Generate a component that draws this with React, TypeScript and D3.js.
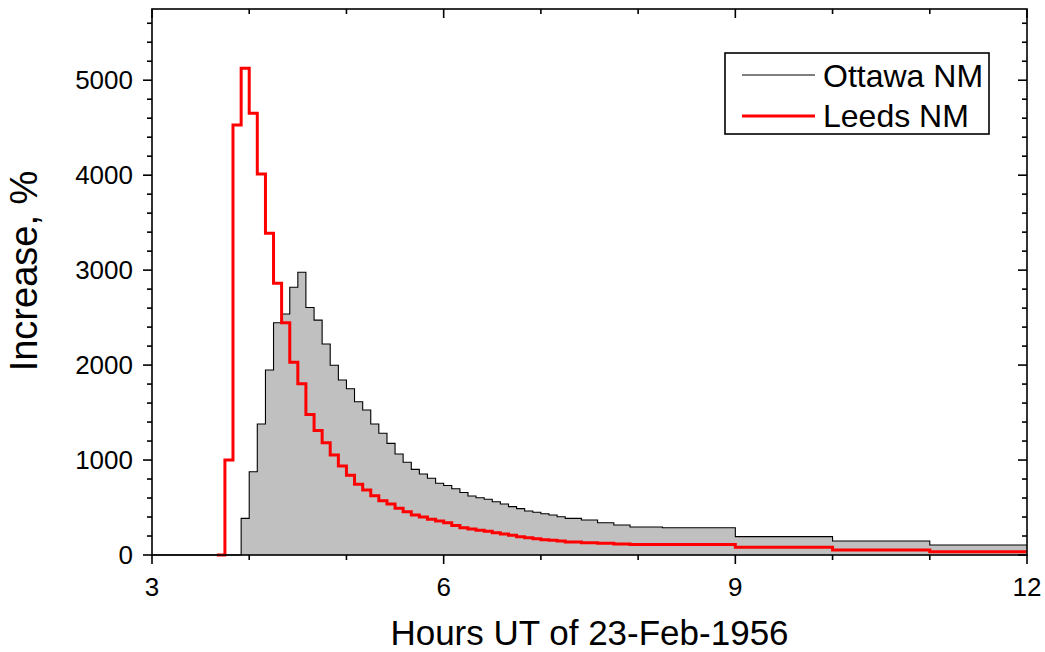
import React from "react";
import * as d3 from "d3";

// Ottawa NM: bin start hours and % increase
const ottawaStart = [3.0, 3.917, 4.0, 4.083, 4.167, 4.25, 4.333, 4.417, 4.5, 4.583, 4.667, 4.75, 4.833, 4.917, 5.0, 5.083, 5.167, 5.25, 5.333, 5.417, 5.5, 5.583, 5.667, 5.75, 5.833, 5.917, 6.0, 6.083, 6.167, 6.25, 6.333, 6.417, 6.5, 6.583, 6.667, 6.75, 6.833, 6.917, 7.0, 7.083, 7.167, 7.25, 7.417, 7.583, 7.75, 7.917, 8.25, 9.0, 10.0, 11.0];
const ottawaValue = [0, 386, 877, 1380, 1948, 2446, 2538, 2819, 2977, 2606, 2473, 2222, 1998, 1843, 1751, 1614, 1527, 1380, 1282, 1176, 1064, 976, 902, 853, 808, 755, 732, 697, 658, 621, 603, 587, 561, 537, 509, 488, 463, 450, 435, 421, 403, 386, 369, 340, 316, 295, 287, 193, 147, 105];

// Leeds NM
const leedsStart = [3.667, 3.75, 3.833, 3.917, 4.0, 4.083, 4.167, 4.25, 4.333, 4.417, 4.5, 4.583, 4.667, 4.75, 4.833, 4.917, 5.0, 5.083, 5.167, 5.25, 5.333, 5.417, 5.5, 5.583, 5.667, 5.75, 5.833, 5.917, 6.0, 6.083, 6.167, 6.25, 6.333, 6.417, 6.5, 6.583, 6.667, 6.75, 6.833, 6.917, 7.0, 7.083, 7.167, 7.25, 7.417, 7.583, 7.75, 7.917, 9.0, 10.0, 11.0];
const leedsValue = [0, 1000, 4528, 5125, 4651, 4012, 3388, 2861, 2446, 2029, 1803, 1479, 1311, 1183, 1053, 937, 839, 744, 684, 624, 572, 537, 492, 456, 421, 400, 376, 358, 340, 311, 287, 274, 261, 250, 235, 221, 207, 193, 182, 172, 161, 155, 147, 137, 130, 123, 116, 110, 81, 53, 35];

const endHour = 12;
const xMajor = [3, 6, 9, 12];
const xMinor = [4, 5, 7, 8, 10, 11];
const yMajor = [0, 1000, 2000, 3000, 4000, 5000];
const yMinor = [200, 400, 600, 800, 1200, 1400, 1600, 1800, 2200, 2400, 2600, 2800, 3200, 3400, 3600, 3800, 4200, 4400, 4600, 4800, 5200, 5400, 5600];

const FONT = "'Liberation Sans', Arial, Helvetica, sans-serif";

type Pt = [number, number];
function pts(starts: number[], vals: number[]): Pt[] {
  const p: Pt[] = starts.map((s, i) => [s, vals[i]] as Pt);
  p.push([endHour, vals[vals.length - 1]]);
  return p;
}

export default function App() {
  const left = 152, right = 1027, top = 9, bottom = 555;
  const x = d3.scaleLinear().domain([3, 12]).range([left, right]);
  const y = d3.scaleLinear().domain([0, 5750]).range([bottom, top]);

  const ottawa = pts(ottawaStart, ottawaValue);
  const leeds = pts(leedsStart, leedsValue);

  const line = d3.line<Pt>().x((d) => x(d[0])).y((d) => y(d[1])).curve(d3.curveStepAfter);
  const area = d3.area<Pt>().x((d) => x(d[0])).y0(y(0)).y1((d) => y(d[1])).curve(d3.curveStepAfter);

  const maj = 9, mnr = 5;

  return (
    <svg width={1045} height={652} style={{ position: "absolute", left: 0, top: 0, background: "#fff" }} fontFamily={FONT}>
      <path d={area(ottawa) || ""} fill="#c0c0c0" stroke="none" />
      <path d={line(ottawa) || ""} fill="none" stroke="#000" strokeWidth={1.1} />
      <path d={line(leeds) || ""} fill="none" stroke="#ff0000" strokeWidth={3} />

      {/* frame */}
      <rect x={left} y={top} width={right - left} height={bottom - top} fill="none" stroke="#000" strokeWidth={1.6} />

      {/* bottom ticks (outside) & top ticks (inside) */}
      {xMajor.map((v) => (
        <g key={"xM" + v}>
          <line x1={x(v)} x2={x(v)} y1={bottom} y2={bottom + maj} stroke="#000" strokeWidth={1.6} />
          <line x1={x(v)} x2={x(v)} y1={top} y2={top + maj} stroke="#000" strokeWidth={1.6} />
          <text x={x(v)} y={596} textAnchor="middle" fontSize={26}>{v}</text>
        </g>
      ))}
      {xMinor.map((v) => (
        <g key={"xm" + v}>
          <line x1={x(v)} x2={x(v)} y1={bottom} y2={bottom + mnr} stroke="#000" strokeWidth={1.6} />
          <line x1={x(v)} x2={x(v)} y1={top} y2={top + mnr} stroke="#000" strokeWidth={1.6} />
        </g>
      ))}
      {yMajor.map((v) => (
        <g key={"yM" + v}>
          <line x1={left - maj} x2={left} y1={y(v)} y2={y(v)} stroke="#000" strokeWidth={1.6} />
          <line x1={right - maj} x2={right} y1={y(v)} y2={y(v)} stroke="#000" strokeWidth={1.6} />
          <text x={left - 19} y={y(v) + 9} textAnchor="end" fontSize={26}>{v}</text>
        </g>
      ))}
      {yMinor.map((v) => (
        <g key={"ym" + v}>
          <line x1={left - mnr} x2={left} y1={y(v)} y2={y(v)} stroke="#000" strokeWidth={1.6} />
          <line x1={right - mnr} x2={right} y1={y(v)} y2={y(v)} stroke="#000" strokeWidth={1.6} />
        </g>
      ))}

      {/* axis titles */}
      <text x={(left + right) / 2} y={645} textAnchor="middle" fontSize={35}>Hours UT of 23-Feb-1956</text>
      <text transform={`translate(37, 271) rotate(-90)`} textAnchor="middle" fontSize={38}>Increase, %</text>

      {/* legend */}
      <rect x={725} y={53} width={264} height={81} fill="#fff" stroke="#000" strokeWidth={1.6} />
      <line x1={742} x2={815} y1={75} y2={75} stroke="#000" strokeWidth={1.1} />
      <line x1={742} x2={815} y1={116} y2={116} stroke="#ff0000" strokeWidth={3} />
      <text x={823} y={87} fontSize={32}>Ottawa NM</text>
      <text x={823} y={127} fontSize={32}>Leeds NM</text>
    </svg>
  );
}
